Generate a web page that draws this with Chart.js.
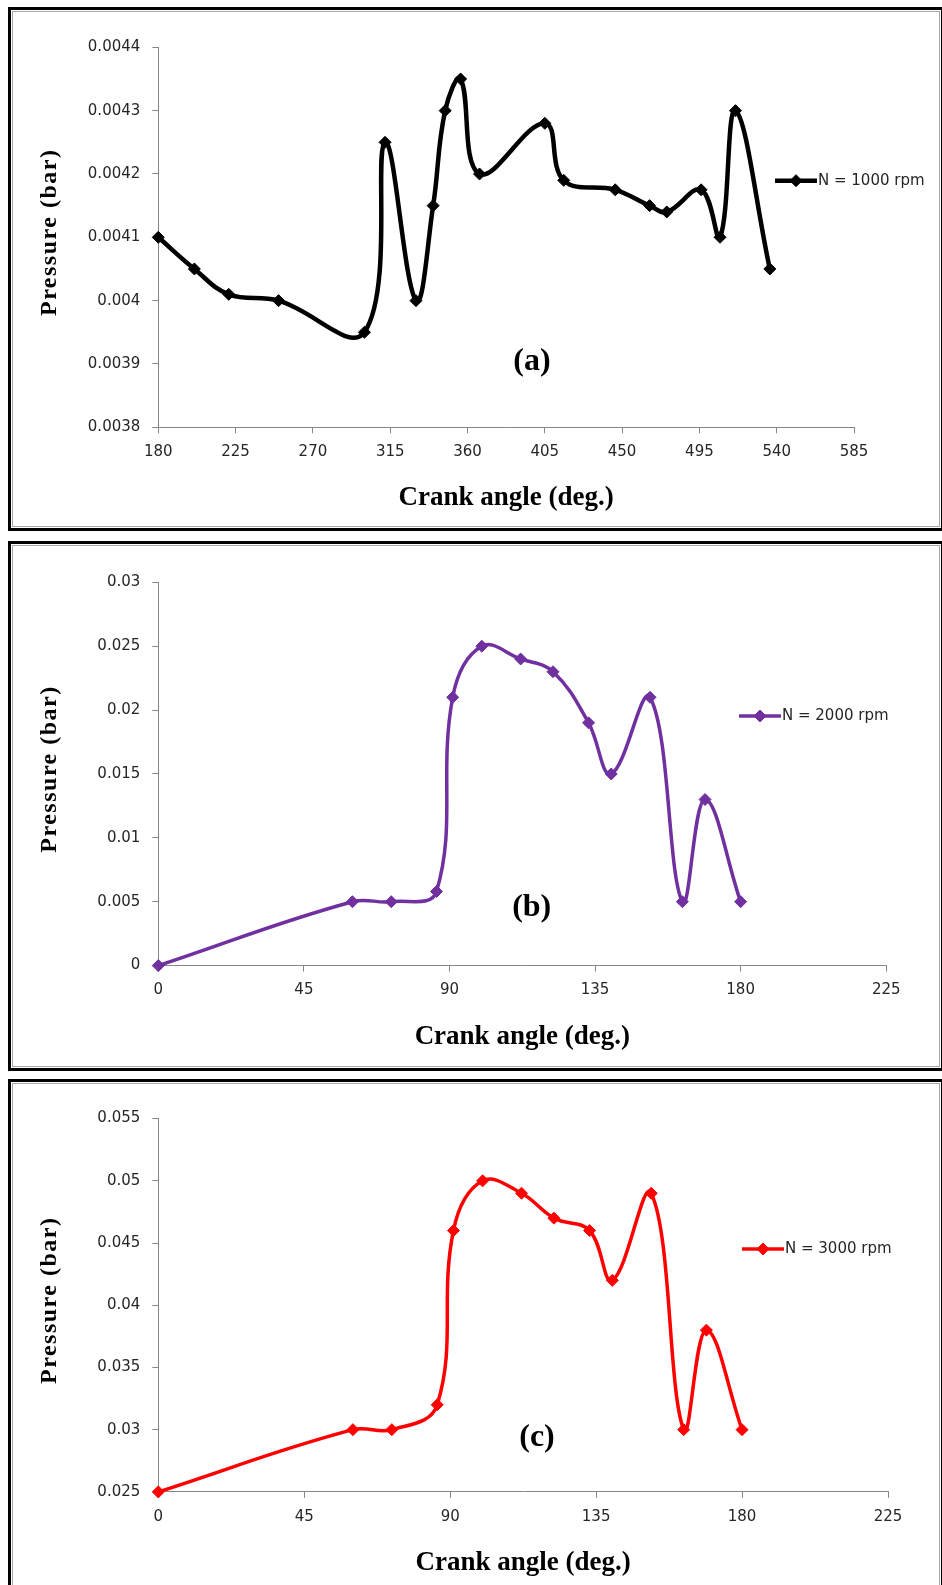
<!DOCTYPE html>
<html>
<head>
<meta charset="utf-8">
<script src="https://cdn.jsdelivr.net/npm/chart.js@4.4.1/dist/chart.umd.min.js"></script>
<style>
  html, body { margin: 0; padding: 0; background: #fff; }
  body { width: 942px; height: 1585px; position: relative; overflow: hidden; }
  .frame {
    position: absolute; box-sizing: border-box;
    border: 3px solid #000;
    box-shadow: inset 0 0 0 1px #fff, inset 0 0 0 2px #a6a6a6;
  }
  canvas { position: absolute; left: 0; }
</style>
</head>
<body>
<div class="frame" style="left:8px;top:7px;width:936px;height:524px"></div>
<div class="frame" style="left:8px;top:541px;width:936px;height:530px"></div>
<div class="frame" style="left:8px;top:1079px;width:936px;height:530px"></div>
<canvas id="chartA" width="942" height="535" style="top:0px;width:942px;height:535px"></canvas>
<canvas id="chartB" width="942" height="540" style="top:535px;width:942px;height:540px"></canvas>
<canvas id="chartC" width="942" height="510" style="top:1075px;width:942px;height:510px"></canvas>
<script>
// Crank angle (deg.) and pressure (bar) for each engine speed
const anglesA = [180, 201, 221, 250, 300, 312, 330, 340, 347, 356, 367, 405, 416, 446, 466, 476, 496, 507, 516, 536];
const pressureA = [0.0041, 0.00405, 0.00401, 0.0040, 0.00395, 0.00425, 0.0040, 0.00415, 0.0043, 0.00435,
                   0.0042, 0.00428, 0.00419, 0.004175, 0.00415, 0.00414, 0.004175, 0.0041, 0.0043, 0.00405];

const anglesBC = [0, 60, 72, 86, 91, 100, 112, 122, 133, 140, 152, 162, 169, 180];
const pressureB = [0, 0.005, 0.005, 0.0058, 0.021, 0.025, 0.024, 0.023, 0.019, 0.015, 0.021, 0.005, 0.013, 0.005];
const pressureC = [0.025, 0.030, 0.030, 0.032, 0.046, 0.050, 0.049, 0.047, 0.046, 0.042, 0.049, 0.030, 0.038, 0.030];

const seriesLabels = ['N = 1000 rpm', 'N = 2000 rpm', 'N = 3000 rpm'];
const panelLetters = ['(a)', '(b)', '(c)'];
const xTitle = 'Crank angle (deg.)';
const yTitle = 'Pressure (bar)';

// Axis ticks
const xTicksA = [180, 225, 270, 315, 360, 405, 450, 495, 540, 585];
const xTicksBC = [0, 45, 90, 135, 180, 225];
const yTicksA = [0.0038, 0.0039, 0.0040, 0.0041, 0.0042, 0.0043, 0.0044];
const yLabelsA = ['0.0038', '0.0039', '0.004', '0.0041', '0.0042', '0.0043', '0.0044'];
const yTicksB = [0, 0.005, 0.010, 0.015, 0.020, 0.025, 0.030];
const yLabelsB = ['0', '0.005', '0.01', '0.015', '0.02', '0.025', '0.03'];
const yTicksC = [0.025, 0.030, 0.035, 0.040, 0.045, 0.050, 0.055];
const yLabelsC = ['0.025', '0.03', '0.035', '0.04', '0.045', '0.05', '0.055'];

const AXIS_GREY = '#868686';
const LABEL_COLOR = '#262626';
const TICK_FONT = { family: '"DejaVu Sans", Verdana, sans-serif', size: 15 };
const SERIF = '"Liberation Serif", "Times New Roman", serif';

// Titles, panel letter and legend key drawn over each chart
const decorPlugin = {
  id: 'decor',
  afterDraw(chart, args, o) {
    const { ctx, chartArea: ca } = chart;
    const ds = chart.data.datasets[0];
    ctx.save();
    ctx.fillStyle = '#000';

    // x-axis title
    ctx.font = 'bold 27px ' + SERIF;
    ctx.textAlign = 'center';
    ctx.textBaseline = 'alphabetic';
    ctx.fillText(xTitle, (ca.left + ca.right) / 2, ca.bottom + 78);

    // panel letter
    ctx.font = 'bold 32px ' + SERIF;
    ctx.textBaseline = 'middle';
    ctx.fillText(o.letter, ca.left + o.letterFx * (ca.right - ca.left), ca.top + o.letterFy * (ca.bottom - ca.top));

    // y-axis title
    ctx.save();
    ctx.translate(50, (ca.top + ca.bottom) / 2 - 5);
    ctx.rotate(-Math.PI / 2);
    ctx.font = 'bold 24px ' + SERIF;
    if ('letterSpacing' in ctx) ctx.letterSpacing = '1.5px';
    ctx.textAlign = 'center';
    ctx.textBaseline = 'middle';
    ctx.fillText(yTitle, 0, 0);
    ctx.restore();

    // legend key
    const lx = o.legendX, ly = o.legendY, len = 42;
    ctx.strokeStyle = ds.borderColor;
    ctx.lineWidth = ds.borderWidth;
    ctx.beginPath();
    ctx.moveTo(lx, ly);
    ctx.lineTo(lx + len, ly);
    ctx.stroke();
    ctx.fillStyle = ds.borderColor;
    ctx.lineWidth = 1;
    Chart.helpers.drawPoint(ctx, {
      pointStyle: 'rectRot', radius: ds.pointRadius, borderWidth: 1, rotation: 0
    }, lx + len / 2, ly);
    ctx.fillStyle = LABEL_COLOR;
    ctx.font = '15px ' + TICK_FONT.family;
    ctx.textAlign = 'left';
    ctx.textBaseline = 'middle';
    ctx.fillText(ds.label, lx + len + 1, ly);
    ctx.restore();
  }
};

function makePanel(id, cfg) {
  const points = cfg.x.map((a, i) => ({ x: a, y: cfg.y[i] }));
  return new Chart(document.getElementById(id), {
    type: 'line',
    data: {
      datasets: [{
        label: cfg.label,
        data: points,
        borderColor: cfg.color,
        backgroundColor: cfg.color,
        borderWidth: cfg.lineWidth,
        tension: 0.4,
        pointStyle: 'rectRot',
        pointRadius: 6,
        pointBorderWidth: 1,
        pointBackgroundColor: cfg.color,
        pointBorderColor: cfg.color,
        fill: false,
        clip: false
      }]
    },
    options: {
      responsive: false,
      animation: false,
      devicePixelRatio: 1,
      layout: { padding: cfg.padding },
      plugins: {
        legend: { display: false },
        tooltip: { enabled: false },
        decor: cfg.decor
      },
      scales: {
        x: {
          type: 'linear',
          min: cfg.xTicks[0],
          max: cfg.xTicks[cfg.xTicks.length - 1],
          afterBuildTicks: s => { s.ticks = cfg.xTicks.map(v => ({ value: v })); },
          afterFit: s => { s.height = 60; },
          grid: { drawOnChartArea: false, color: AXIS_GREY, tickLength: 6 },
          border: { color: AXIS_GREY, width: 1 },
          ticks: {
            font: TICK_FONT, color: LABEL_COLOR, padding: 10, maxRotation: 0,
            callback: (v, i) => String(cfg.xTicks[i])
          }
        },
        y: {
          type: 'linear',
          min: cfg.yTicks[0],
          max: cfg.yTicks[cfg.yTicks.length - 1],
          afterBuildTicks: s => { s.ticks = cfg.yTicks.map(v => ({ value: v })); },
          afterFit: s => { s.width = 158.3; },
          grid: { drawOnChartArea: false, color: AXIS_GREY, tickLength: 6 },
          border: { color: AXIS_GREY, width: 1 },
          ticks: {
            font: TICK_FONT, color: LABEL_COLOR, padding: 12,
            callback: (v, i) => cfg.yLabels[i]
          }
        }
      }
    },
    plugins: [decorPlugin]
  });
}

makePanel('chartA', {
  x: anglesA, y: pressureA, label: seriesLabels[0], color: '#000000', lineWidth: 4.5,
  xTicks: xTicksA, yTicks: yTicksA, yLabels: yLabelsA,
  padding: { left: 0, top: 47.3, right: 88, bottom: 47.7 },
  decor: { letter: panelLetters[0], letterFx: 0.537, letterFy: 0.828, legendX: 775, legendY: 180.7 }
});

makePanel('chartB', {
  x: anglesBC, y: pressureB, label: seriesLabels[1], color: '#7030A0', lineWidth: 3.5,
  xTicks: xTicksBC, yTicks: yTicksB, yLabels: yLabelsB,
  padding: { left: 0, top: 47.3, right: 55.8, bottom: 49.4 },
  decor: { letter: panelLetters[1], letterFx: 0.513, letterFy: 0.85, legendX: 739, legendY: 181 }
});

makePanel('chartC', {
  x: anglesBC, y: pressureC, label: seriesLabels[2], color: '#FF0000', lineWidth: 3.5,
  xTicks: xTicksBC, yTicks: yTicksC, yLabels: yLabelsC,
  padding: { left: 0, top: 43.6, right: 54, bottom: 33.1 },
  decor: { letter: panelLetters[2], letterFx: 0.519, letterFy: 0.854, legendX: 742, legendY: 174 }
});
</script>
</body>
</html>
